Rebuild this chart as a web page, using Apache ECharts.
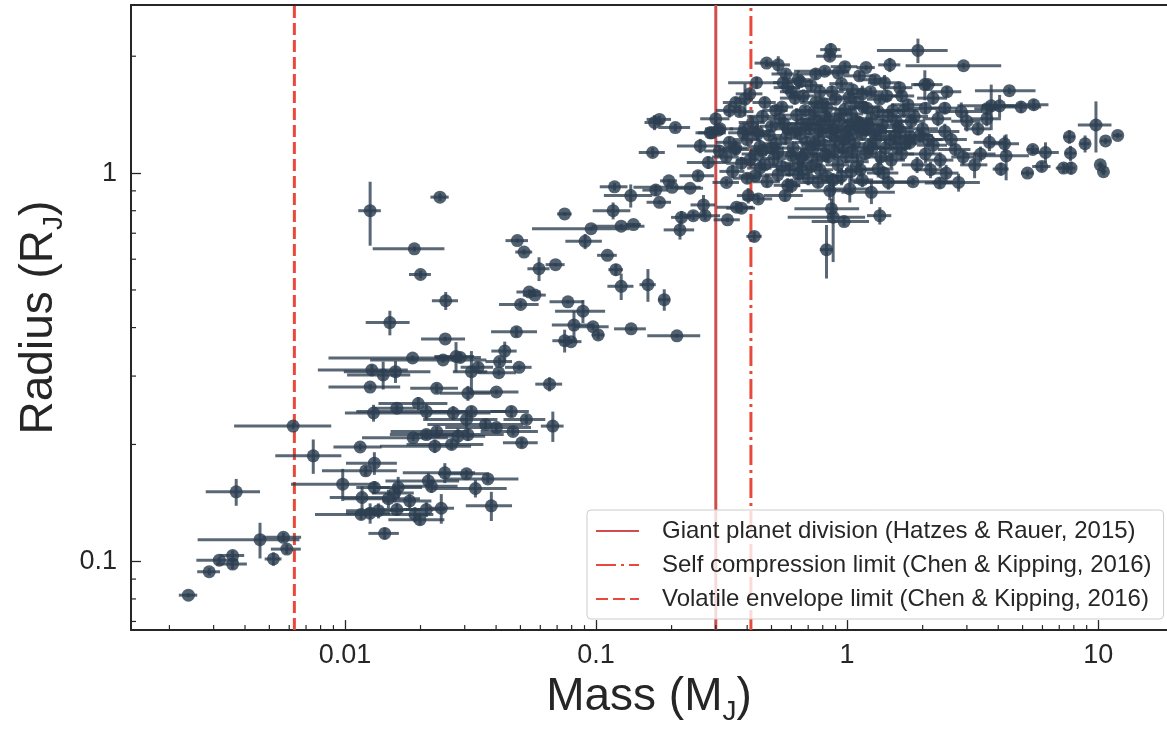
<!DOCTYPE html>
<html>
<head>
<meta charset="utf-8">
<script src="https://cdn.jsdelivr.net/npm/echarts@6/dist/echarts.min.js"></script>
<style>html,body{margin:0;padding:0;background:#fff}#chart{width:1167px;height:731px}</style>
</head>
<body>
<div id="chart"></div>
<script>
// planets: mass (M_J) +- err, radius (R_J) +- err
var mass = [
	0.00238,0.00288,0.00316,0.00357,0.00357,0.00369,0.00459,0.00569,0.00587,0.00519,
	0.00622,0.00748,0.0098,0.0115,0.0131,0.0121,0.0126,0.0130,0.0131,0.0117,
	0.0136,0.0116,0.0126,0.0144,0.0158,0.0163,0.0181,0.0149,0.0161,0.0190,
	0.0199,0.0211,0.0242,0.0215,0.0221,0.0250,0.0305,0.0371,0.0331,0.0383,
	0.0232,0.0309,0.0401,0.0653,0.0161,0.0196,0.0211,0.0270,0.0319,0.0305,
	0.0363,0.0460,0.0528,0.0673,0.0401,0.0467,0.0506,0.0211,0.0232,0.0187,
	0.0228,0.0266,0.0282,0.0309,0.0126,0.0239,0.0189,0.0200,0.0252,0.0151,
	0.0251,0.0186,0.0246,0.0277,0.0288,0.0128,0.0142,0.0159,0.0319,0.0339,
	0.0413,0.0410,0.0433,0.0494,0.0482,0.0542,0.0571,0.0501,0.0773,0.0887,
	0.0817,0.0973,0.1020,0.0750,0.0795,0.0486,0.0517,0.0593,0.0690,0.0750,
	0.0956,0.0905,0.171,0.179,0.207,0.168,0.1185,0.1375,0.173,0.195,
	0.201,0.237,0.179,0.117,0.126,0.141,0.216,0.219,0.244,0.268,
	0.272,0.334,0.363,0.380,0.404,0.443,0.427,0.111,0.120,0.126,
	0.161,0.187,0.138,0.210,0.289,0.307,0.260,0.280,0.255,0.331,
	0.386,0.358,0.430,0.861,0.853,1.915,1.48,1.19,0.478,0.532,
	0.436,0.392,0.374,0.557,0.639,0.815,0.921,1.29,1.41,2.04,
	2.10,2.91,4.43,3.75,4.05,4.93,5.54,3.61,2.85,2.45,
	9.8,11.96,10.7,7.68,8.87,7.76,7.28,7.80,6.17,5.49,
	5.96,5.23,10.2,10.5,4.24,4.30,4.10,3.69,3.32,2.34,
	2.78,2.48,3.22,1.83,1.46,1.25,1.025,0.853,0.767,0.601,
	0.566,0.867,0.880,0.973,1.35,0.828,0.285,0.312,1.33
];
var massErr = [
	0.0002,0.0003,0.0006,0.0004,0.0005,0.0009,0.0020,0.0010,0.0008,0.0004,
	0.0026,0.0022,0.0037,0.0025,0.0030,0.0040,0.0040,0.0030,0.0020,0.0030,
	0.0035,0.0040,0.0025,0.0020,0.0030,0.0040,0.0040,0.0050,0.0040,0.0035,
	0.0050,0.0040,0.0030,0.0070,0.0060,0.0080,0.0070,0.0120,0.0110,0.0080,
	0.0050,0.0070,0.0090,0.0080,0.0030,0.0060,0.0100,0.0110,0.0120,0.0100,
	0.0150,0.0080,0.0100,0.0070,0.0150,0.0120,0.0080,0.0060,0.0080,0.0070,
	0.0090,0.0090,0.0080,0.0120,0.0013,0.0020,0.0060,0.0020,0.0030,0.0030,
	0.0050,0.0100,0.0120,0.0050,0.0060,0.0050,0.0040,0.0060,0.0050,0.0050,
	0.0050,0.0070,0.0050,0.0060,0.0100,0.0060,0.0060,0.0090,0.0120,0.0200,
	0.0150,0.0150,0.0060,0.0080,0.0080,0.0050,0.0040,0.0060,0.0060,0.0050,
	0.0400,0.0150,0.015,0.020,0.030,0.020,0.015,0.030,0.020,0.015,
	0.060,0.030,0.020,0.020,0.030,0.010,0.030,0.020,0.030,0.030,
	0.040,0.040,0.060,0.050,0.040,0.060,0.030,0.010,0.008,0.015,
	0.012,0.010,0.020,0.050,0.040,0.020,0.050,0.050,0.040,0.040,
	0.050,0.050,0.060,0.08,0.10,0.60,0.15,0.10,0.05,0.06,
	0.10,0.03,0.05,0.05,0.08,0.20,0.10,0.15,0.20,0.20,
	0.30,1.20,1.20,1.00,0.60,1.00,0.80,0.40,0.60,0.30,
	1.5,0.5,0.5,0.4,0.4,0.4,0.5,0.3,0.8,0.3,
	0.5,0.3,0.3,0.3,0.6,1.0,0.3,0.5,0.4,0.3,
	0.6,0.3,0.4,0.8,0.4,0.3,0.2,0.2,0.2,0.05,
	0.10,0.25,0.30,0.25,0.15,0.05,0.03,0.04,0.20
];
var radius = [
	0.0818,0.094,0.1007,0.1035,0.0984,0.151,0.1137,0.1153,0.1075,0.1014,
	0.223,0.187,0.158,0.197,0.179,0.171,0.281,0.241,0.155,0.146,
	0.135,0.132,0.133,0.118,0.150,0.155,0.143,0.145,0.136,0.132,
	0.128,0.136,0.137,0.161,0.156,0.169,0.168,0.163,0.154,0.139,
	0.279,0.271,0.273,0.286,0.248,0.255,0.243,0.241,0.243,0.232,
	0.225,0.243,0.232,0.223,0.221,0.216,0.202,0.212,0.216,0.208,
	0.198,0.200,0.210,0.212,0.800,0.867,0.638,0.548,0.469,0.412,
	0.374,0.334,0.330,0.337,0.335,0.311,0.302,0.308,0.308,0.316,
	0.327,0.306,0.348,0.316,0.390,0.494,0.485,0.459,0.466,0.441,
	0.406,0.402,0.383,0.370,0.368,0.670,0.626,0.567,0.581,0.785,
	0.719,0.667,1.35,1.375,1.31,1.13,0.922,0.875,0.904,0.955,
	0.919,0.914,0.841,0.800,0.730,0.737,0.714,0.769,0.777,0.828,
	0.777,0.758,0.817,0.812,0.875,0.858,0.687,0.614,0.564,0.511,
	0.516,0.472,0.397,0.381,1.27,1.29,1.175,1.065,0.984,0.946,
	1.27,1.15,0.984,2.08,2.00,2.07,1.90,1.87,1.92,1.90,
	1.71,1.55,1.44,1.71,1.74,1.83,1.81,1.74,1.71,1.69,
	1.69,1.89,1.63,1.49,1.49,1.48,1.50,1.465,1.44,1.47,
	1.33,1.25,1.21,1.24,1.19,1.125,1.03,1.03,1.13,1.15,
	1.04,1.00,1.05,1.008,1.19,1.108,1.024,1.20,1.30,0.943,
	0.946,1.00,1.05,0.95,0.946,0.892,0.91,0.901,0.946,0.928,
	0.875,0.809,0.770,0.750,0.777,0.635,1.27,1.30,1.024
];
var radiusErr = [
	0.001,0.002,0.002,0.003,0.003,0.012,0.012,0.003,0.003,0.004,
	0.004,0.019,0.015,0.004,0.012,0.005,0.005,0.012,0.006,0.010,
	0.006,0.004,0.008,0.004,0.008,0.010,0.006,0.008,0.005,0.006,
	0.004,0.006,0.012,0.008,0.006,0.010,0.004,0.004,0.008,0.012,
	0.008,0.012,0.004,0.012,0.005,0.010,0.012,0.010,0.008,0.012,
	0.006,0.008,0.006,0.020,0.005,0.005,0.006,0.006,0.006,0.004,
	0.008,0.006,0.010,0.008,0.150,0.020,0.010,0.012,0.025,0.030,
	0.005,0.005,0.005,0.030,0.010,0.010,0.025,0.020,0.040,0.010,
	0.008,0.005,0.020,0.005,0.012,0.008,0.005,0.010,0.005,0.030,
	0.035,0.008,0.010,0.025,0.005,0.008,0.010,0.040,0.005,0.008,
	0.008,0.030,0.06,0.03,0.03,0.03,0.02,0.06,0.03,0.01,
	0.01,0.01,0.01,0.04,0.01,0.005,0.04,0.03,0.02,0.05,
	0.02,0.01,0.02,0.02,0.04,0.02,0.02,0.005,0.02,0.04,
	0.05,0.03,0.005,0.004,0.03,0.03,0.05,0.04,0.03,0.02,
	0.04,0.03,0.02,0.08,0.05,0.15,0.08,0.03,0.04,0.10,
	0.06,0.15,0.04,0.06,0.10,0.04,0.04,0.05,0.08,0.15,
	0.05,0.03,0.03,0.20,0.10,0.05,0.05,0.04,0.08,0.05,
	0.20,0.02,0.02,0.05,0.06,0.05,0.03,0.04,0.07,0.03,
	0.03,0.02,0.02,0.02,0.06,0.15,0.04,0.06,0.05,0.03,
	0.05,0.05,0.08,0.02,0.04,0.06,0.07,0.05,0.03,0.04,
	0.03,0.05,0.18,0.02,0.04,0.10,0.03,0.02,0.05
];
// dense hot-Jupiter clump, estimated
var clumpMass = [
	0.72,0.78,0.95,1.05,1.62,0.60,1.15,0.47,0.55,0.62,
	0.68,0.75,0.83,0.90,0.98,1.08,1.20,1.35,1.52,1.75,
	2.20,0.42,0.46,0.50,0.54,0.58,0.63,0.66,0.71,0.74,
	0.79,0.82,0.88,0.93,1.00,1.04,1.12,1.18,1.25,1.38,
	1.46,1.60,1.80,2.00,2.30,3.00,0.34,0.40,0.45,0.49,
	0.52,0.57,0.61,0.65,0.69,0.73,0.77,0.81,0.86,0.90,
	0.96,1.01,1.07,1.14,1.22,1.30,1.42,1.55,1.70,1.95,
	2.20,2.60,0.33,0.38,0.43,0.47,0.51,0.55,0.60,0.64,
	0.68,0.72,0.76,0.84,0.92,0.99,1.10,1.18,1.50,1.65,
	1.90,2.90,0.48,0.53,0.70,0.95,1.15,0.64,0.88,
	0.36,0.41,0.44,0.52,0.58,0.67,0.74,0.80,0.87,0.94,
	1.02,1.09,1.16,1.24,1.33,1.44,1.57,1.68,1.85,2.05,
	0.39,0.44,0.50,0.56,0.62,0.70,0.78,0.85,0.91,0.97,
	1.03,1.11,1.21,1.28,1.36,1.48,1.63,1.78,2.10,2.45,
	0.31,0.36,0.41,0.46,0.53,0.59,0.66,0.74,0.82,0.89,
	1.05,1.13,1.26,1.36,1.58,1.78,2.05,2.35,2.70,3.40,
	0.35,0.40,0.45,0.58,0.66,0.78,0.83,1.04,1.40,2.15,
	0.30,0.34,0.65,0.75,1.12,1.65,2.50,3.60,0.57,0.98
];
var clumpMassErr = [
	0.08,0.10,0.10,0.12,0.20,0.06,0.15,0.05,0.06,0.08,
	0.06,0.10,0.08,0.12,0.10,0.12,0.15,0.15,0.20,0.25,
	0.30,0.05,0.06,0.05,0.06,0.07,0.08,0.07,0.08,0.09,
	0.10,0.08,0.10,0.12,0.10,0.12,0.15,0.12,0.15,0.20,
	0.15,0.20,0.25,0.30,0.30,0.40,0.04,0.05,0.05,0.06,
	0.06,0.07,0.06,0.08,0.07,0.08,0.09,0.10,0.10,0.09,
	0.10,0.12,0.12,0.15,0.15,0.15,0.20,0.20,0.20,0.25,
	0.30,0.40,0.04,0.05,0.05,0.06,0.06,0.06,0.07,0.08,
	0.08,0.08,0.09,0.10,0.10,0.12,0.12,0.15,0.20,0.20,
	0.25,0.30,0.06,0.06,0.08,0.10,0.12,0.07,0.10,
	0.04,0.05,0.05,0.06,0.07,0.08,0.08,0.10,0.10,0.12,
	0.12,0.12,0.15,0.15,0.18,0.20,0.20,0.25,0.25,0.30,
	0.05,0.05,0.06,0.07,0.07,0.08,0.10,0.10,0.12,0.12,
	0.12,0.14,0.15,0.16,0.18,0.20,0.22,0.25,0.30,0.35,
	0.04,0.04,0.05,0.05,0.06,0.07,0.08,0.08,0.10,0.10,
	0.12,0.15,0.15,0.18,0.20,0.25,0.30,0.30,0.40,0.50,
	0.04,0.05,0.05,0.07,0.08,0.10,0.10,0.12,0.20,0.30,
	0.04,0.04,0.08,0.10,0.15,0.20,0.35,0.50,0.07,0.12
];
var clumpRadius = [
	1.68,1.62,1.70,1.64,1.66,1.62,1.60,1.52,1.48,1.56,
	1.45,1.52,1.47,1.55,1.46,1.52,1.47,1.55,1.45,1.50,
	1.56,1.35,1.40,1.32,1.38,1.30,1.41,1.34,1.30,1.38,
	1.33,1.40,1.30,1.37,1.32,1.42,1.35,1.29,1.38,1.33,
	1.40,1.31,1.36,1.30,1.38,1.36,1.20,1.22,1.17,1.25,
	1.19,1.23,1.16,1.26,1.20,1.15,1.24,1.18,1.27,1.21,
	1.16,1.24,1.19,1.26,1.17,1.22,1.16,1.24,1.19,1.25,
	1.18,1.22,1.10,1.06,1.12,1.05,1.09,1.04,1.11,1.06,
	1.12,1.04,1.08,1.10,1.05,1.10,1.07,1.12,1.08,1.12,
	1.05,1.10,0.95,0.99,0.97,0.98,0.96,0.99,0.96,
	1.52,1.60,1.28,1.45,1.66,1.58,1.44,1.51,1.62,1.42,
	1.57,1.36,1.48,1.62,1.44,1.58,1.36,1.45,1.40,1.47,
	1.30,1.26,1.16,1.34,1.28,1.34,1.29,1.36,1.28,1.22,
	1.29,1.31,1.33,1.27,1.28,1.22,1.28,1.24,1.22,1.28,
	1.14,1.16,1.08,1.14,1.13,1.02,1.10,1.19,1.12,1.14,
	1.14,1.02,1.16,1.10,1.16,1.20,1.12,1.08,1.15,1.12,
	1.01,0.97,1.03,0.93,1.02,1.02,0.98,1.01,1.00,1.02,
	1.38,1.45,1.72,1.80,1.78,1.58,1.62,1.38,1.80,1.88
];
var clumpRadiusErr = [
	0.05,0.06,0.04,0.05,0.06,0.05,0.08,0.05,0.04,0.06,
	0.04,0.05,0.06,0.04,0.05,0.06,0.05,0.04,0.06,0.05,
	0.06,0.04,0.05,0.04,0.05,0.04,0.06,0.05,0.04,0.05,
	0.06,0.05,0.05,0.04,0.06,0.05,0.05,0.04,0.06,0.05,
	0.04,0.05,0.06,0.05,0.06,0.08,0.04,0.04,0.05,0.04,
	0.05,0.04,0.05,0.06,0.04,0.05,0.04,0.05,0.06,0.04,
	0.05,0.05,0.04,0.05,0.06,0.04,0.05,0.06,0.05,0.05,
	0.06,0.05,0.03,0.04,0.04,0.03,0.05,0.04,0.04,0.05,
	0.04,0.04,0.05,0.04,0.05,0.04,0.05,0.04,0.05,0.04,
	0.05,0.05,0.03,0.04,0.04,0.05,0.04,0.03,0.04,
	0.05,0.04,0.06,0.05,0.04,0.06,0.05,0.04,0.06,0.05,
	0.04,0.06,0.05,0.04,0.05,0.06,0.04,0.05,0.06,0.05,
	0.04,0.05,0.04,0.06,0.05,0.04,0.05,0.06,0.04,0.05,
	0.05,0.04,0.06,0.05,0.04,0.05,0.06,0.04,0.05,0.06,
	0.04,0.05,0.04,0.05,0.06,0.04,0.05,0.04,0.05,0.06,
	0.05,0.04,0.06,0.05,0.04,0.05,0.06,0.05,0.04,0.05,
	0.04,0.03,0.05,0.04,0.05,0.04,0.03,0.05,0.04,0.05,
	0.05,0.06,0.05,0.06,0.05,0.06,0.05,0.06,0.04,0.05
];

// limits (M_J)
var giantDivision = 0.3;
var selfCompression = 0.414;
var volatileEnvelope = 0.00629;

var xTicks = [0.01, 0.1, 1, 10];
var xTickText = ['0.01', '0.1', '1', '10'];
var yTicks = [0.1, 1];
var yTickText = ['0.1', '1'];

var X_MIN = 0.001406, X_MAX = 18.8;
var Y_MIN = 0.0665, Y_MAX = 2.71;

var DOT = '#2c3e50';
var INK = '#262626';
var FONT = '"Liberation Sans", Arial, sans-serif';

function tickLabel(ticks, texts){
	return function(v){
		for(var i=0;i<ticks.length;i++){
			if(Math.abs(Math.log10(v)-Math.log10(ticks[i]))<1e-6) return texts[i];
		}
		return '';
	};
}

// minor tick positions 2..9 x 10^n inside the axis range
function minorValues(lo, hi){
	var out = [];
	for(var e=-4;e<=2;e++){
		for(var k=2;k<=9;k++){
			var v = k*Math.pow(10,e);
			if(v>lo && v<hi) out.push(v);
		}
	}
	return out;
}

var allMass = mass.concat(clumpMass);
var allMassErr = massErr.concat(clumpMassErr);
var allRadius = radius.concat(clumpRadius);
var allRadiusErr = radiusErr.concat(clumpRadiusErr);

var points = [], bars = [];
for(var i=0;i<allMass.length;i++){
	points.push([allMass[i], allRadius[i]]);
	bars.push([allMass[i], allRadius[i], allMassErr[i], allRadiusErr[i]]);
}

var minorX = minorValues(X_MIN, X_MAX).map(function(v){return [v, Y_MIN];});
var minorY = minorValues(Y_MIN, Y_MAX).map(function(v){return [X_MIN, v];});

var legendNames = [
	'Giant planet division (Hatzes & Rauer, 2015)',
	'Self compression limit (Chen & Kipping, 2016)',
	'Volatile envelope limit (Chen & Kipping, 2016)'
];

function vline(name, x, color, type){
	return {
		name: name, type: 'line', silent: true, z: 1,
		symbol: 'none', animation: false,
		data: [[x, Y_MIN], [x, Y_MAX]],
		lineStyle: {color: color, width: 3, type: type},
		itemStyle: {color: color}
	};
}

var richName = {
	a: {fontSize: 46, fontFamily: FONT, color: INK, lineHeight: 46, verticalAlign: 'top'},
	s: {fontSize: 28, fontFamily: FONT, color: INK, lineHeight: 28, padding: [24,0,0,0], verticalAlign: 'top'}
};

var option = {
	animation: false,
	backgroundColor: '#ffffff',
	grid: {left: 131, right: 0, top: 5, bottom: 100},
	legend: {
		orient: 'vertical', left: 587, top: 510,
		itemWidth: 43, itemHeight: 14, itemGap: 10,
		padding: [9, 12, 8, 8],
		backgroundColor: 'rgba(255,255,255,0.8)',
		borderColor: '#cccccc', borderWidth: 1, borderRadius: 4,
		itemStyle: {opacity: 0},
		textStyle: {fontSize: 24, color: INK, fontFamily: FONT, padding: [0,0,0,18]},
		data: legendNames
	},
	xAxis: [{
		type: 'log', logBase: 10, min: X_MIN, max: X_MAX,
		name: '{a|Mass (M}{s|J}{a|)}', nameLocation: 'middle', nameGap: 40,
		nameTextStyle: {rich: richName},
		axisLine: {lineStyle: {color: INK, width: 2}},
		axisTick: {inside: true, length: 10, lineStyle: {color: INK, width: 1.3}},
		axisLabel: {fontSize: 27, color: INK, fontFamily: FONT, margin: 12,
			showMinLabel: false, showMaxLabel: false, formatter: tickLabel(xTicks, xTickText)},
		splitLine: {show: false}
	}, {
		// top spine only
		type: 'log', logBase: 10, min: X_MIN, max: X_MAX, position: 'top',
		axisLine: {lineStyle: {color: INK, width: 2}},
		axisTick: {show: false}, axisLabel: {show: false}, splitLine: {show: false}
	}],
	yAxis: {
		type: 'log', logBase: 10, min: Y_MIN, max: Y_MAX,
		name: '{a|Radius (R}{s|J}{a|)}', nameLocation: 'middle', nameGap: 60,
		nameTextStyle: {rich: richName},
		axisLine: {lineStyle: {color: INK, width: 2}},
		axisTick: {inside: true, length: 10, lineStyle: {color: INK, width: 1.3}},
		axisLabel: {fontSize: 27, color: INK, fontFamily: FONT, margin: 14,
			showMinLabel: false, showMaxLabel: false, formatter: tickLabel(yTicks, yTickText)},
		splitLine: {show: false}
	},
	series: [
		vline(legendNames[0], giantDivision, '#cf4d4d', 'solid'),
		vline(legendNames[1], selfCompression, '#e8493b', [20, 5, 3, 5]),
		vline(legendNames[2], volatileEnvelope, '#e8493b', [12, 5]),
		{
			type: 'custom', z: 2, silent: true,
			data: bars, encode: {x: 0, y: 1},
			renderItem: function(params, api){
				var m = api.value(0), r = api.value(1), dm = api.value(2), dr = api.value(3);
				var a = api.coord([Math.max(m-dm, X_MIN), r]);
				var b = api.coord([Math.min(m+dm, X_MAX), r]);
				var c = api.coord([m, Math.max(r-dr, Y_MIN)]);
				var d = api.coord([m, Math.min(r+dr, Y_MAX)]);
				var st = {stroke: 'rgba(44,62,80,0.78)', lineWidth: 3};
				return {type: 'group', children: [
					{type: 'line', shape: {x1: a[0], y1: a[1], x2: b[0], y2: b[1]}, style: st},
					{type: 'line', shape: {x1: c[0], y1: c[1], x2: d[0], y2: d[1]}, style: st}
				]};
			}
		},
		{
			type: 'scatter', z: 3, silent: true,
			data: points, symbol: 'circle', symbolSize: 13,
			itemStyle: {color: DOT, opacity: 0.82}
		},
		{
			type: 'custom', z: 5, silent: true,
			data: minorX,
			renderItem: function(params, api){
				var p = api.coord([api.value(0), api.value(1)]);
				return {type: 'line', shape: {x1: p[0], y1: p[1], x2: p[0], y2: p[1]-5},
					style: {stroke: INK, lineWidth: 1.2}};
			}
		},
		{
			type: 'custom', z: 5, silent: true,
			data: minorY,
			renderItem: function(params, api){
				var p = api.coord([api.value(0), api.value(1)]);
				return {type: 'line', shape: {x1: p[0], y1: p[1], x2: p[0]+5, y2: p[1]},
					style: {stroke: INK, lineWidth: 1.2}};
			}
		}
	]
};

var myChart = echarts.init(document.getElementById('chart'));
myChart.setOption(option);
</script>
</body>
</html>
